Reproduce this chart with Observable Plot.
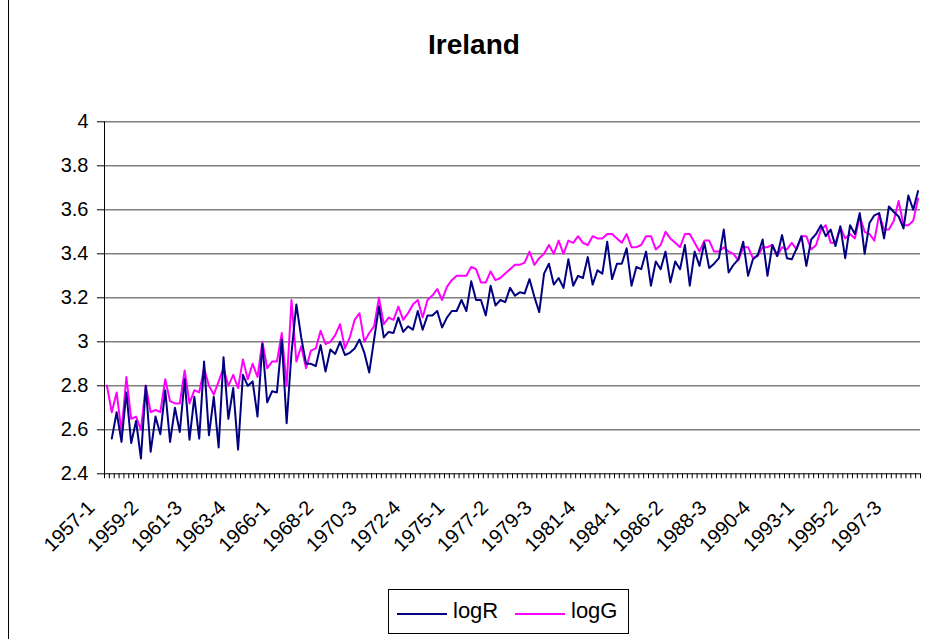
<!DOCTYPE html>
<html>
<head>
<meta charset="utf-8">
<script src="https://cdn.jsdelivr.net/npm/d3@7"></script>
<script src="https://cdn.jsdelivr.net/npm/@observablehq/plot@0.6"></script>
<style>
  html, body { margin: 0; padding: 0; background: #fff; }
  body { width: 926px; height: 639px; overflow: hidden; position: relative; font-family: "Liberation Sans", Arial, sans-serif; }
  #title { box-sizing: border-box; height: 70px; padding-top: 31px; text-align: center; font-weight: bold; font-size: 28px; line-height: 28px; padding-left: 22px; color: #000; }
  #chart svg { display: block; }
  #border { position: absolute; left: 8px; top: 0; width: 1px; height: 639px; background: #000; }
  #legend { position: absolute; left: 388px; top: 589px; width: 241px; height: 45px; border: 1px solid #000; box-sizing: border-box; }
  .sw { position: absolute; height: 2px; width: 50px; top: 23px; }
  .lt { position: absolute; font-size: 22px; line-height: 22px; top: 10px; color: #000; }
</style>
</head>
<body>
<div id="border"></div>
<div id="title">Ireland</div>
<div id="chart"></div>
<div id="legend">
  <div class="sw" style="left:8px;background:#000080"></div>
  <div class="lt" style="left:64px">logR</div>
  <div class="sw" style="left:126px;background:#FF00FF"></div>
  <div class="lt" style="left:182px">logG</div>
</div>
<script>
// ---- data ----
const years = d3.range(1957, 1999);
const categories = years.flatMap(y => [1, 2, 3, 4].map(q => `${y}-${q}`)); // 1957-1 .. 1998-4

const tickLabels = ["1957-1","1959-2","1961-3","1963-4","1966-1","1968-2","1970-3","1972-4","1975-1","1977-2",
  "1979-3","1981-4","1984-1","1986-2","1988-3","1990-4","1993-1","1995-2","1997-3"];

const yTicks = [2.4, 2.6, 2.8, 3.0, 3.2, 3.4, 3.6, 3.8, 4.0];

const logR = [null,
  2.56, 2.68, 2.545, 2.77, 2.54, 2.64, 2.47, 2.80, 2.50, 2.66,
  2.58, 2.78, 2.545, 2.70, 2.59, 2.83, 2.555, 2.75, 2.56, 2.91,
  2.575, 2.75, 2.52, 2.93, 2.65, 2.79, 2.51, 2.85, 2.80, 2.82,
  2.66, 2.99, 2.725, 2.775, 2.77, 3.01, 2.63, 2.95, 3.17, 3.02,
  2.90, 2.90, 2.89, 2.985, 2.865, 2.965, 2.945, 3.00, 2.94, 2.95,
  2.97, 3.01, 2.95, 2.86, 3.01, 3.16, 3.02, 3.045, 3.04, 3.11,
  3.045, 3.07, 3.055, 3.14, 3.055, 3.12, 3.12, 3.14, 3.065, 3.11,
  3.14, 3.14, 3.19, 3.14, 3.275, 3.19, 3.19, 3.12, 3.255, 3.165,
  3.19, 3.18, 3.245, 3.21, 3.225, 3.22, 3.285, 3.205, 3.135, 3.31,
  3.355, 3.26, 3.29, 3.245, 3.375, 3.255, 3.30, 3.29, 3.385, 3.26,
  3.325, 3.31, 3.455, 3.285, 3.355, 3.355, 3.425, 3.255, 3.34, 3.33,
  3.41, 3.255, 3.365, 3.33, 3.41, 3.27, 3.365, 3.33, 3.44, 3.255,
  3.41, 3.345, 3.45, 3.335, 3.355, 3.38, 3.51, 3.315, 3.35, 3.375,
  3.455, 3.30, 3.375, 3.395, 3.465, 3.30, 3.44, 3.39, 3.485, 3.38,
  3.375, 3.425, 3.48, 3.345, 3.465, 3.49, 3.53, 3.48, 3.51, 3.435,
  3.525, 3.38, 3.53, 3.49, 3.585, 3.40, 3.54, 3.575, 3.585, 3.47,
  3.615, 3.59, 3.57, 3.515, 3.665, 3.60, 3.685];

const logG = [
  2.80, 2.68, 2.77, 2.59, 2.84, 2.65, 2.66, 2.60, 2.80, 2.68,
  2.69, 2.68, 2.83, 2.73, 2.72, 2.72, 2.87, 2.72, 2.78, 2.77,
  2.88, 2.80, 2.76, 2.82, 2.88, 2.80, 2.85, 2.79, 2.92, 2.83,
  2.90, 2.84, 3.00, 2.88, 2.91, 2.91, 3.04, 2.80, 3.19, 2.91,
  2.98, 2.88, 2.96, 2.97, 3.05, 2.99, 3.00, 3.03, 3.08, 2.97,
  3.02, 3.10, 3.13, 3.00, 3.04, 3.07, 3.20, 3.08, 3.11, 3.10,
  3.16, 3.10, 3.13, 3.17, 3.19, 3.11, 3.19, 3.21, 3.24, 3.19,
  3.25, 3.28, 3.30, 3.30, 3.30, 3.34, 3.33, 3.27, 3.27, 3.32,
  3.28, 3.29, 3.31, 3.33, 3.35, 3.35, 3.36, 3.41, 3.35, 3.38,
  3.40, 3.44, 3.40, 3.46, 3.40, 3.46, 3.45, 3.48, 3.45, 3.44,
  3.48, 3.47, 3.47, 3.49, 3.49, 3.47, 3.45, 3.49, 3.43, 3.43,
  3.44, 3.48, 3.48, 3.42, 3.44, 3.50, 3.47, 3.45, 3.43, 3.49,
  3.49, 3.45, 3.41, 3.46, 3.46, 3.41, 3.41, 3.43, 3.41, 3.40,
  3.37, 3.43, 3.43, 3.38, 3.39, 3.43, 3.43, 3.44, 3.39, 3.43,
  3.42, 3.45, 3.42, 3.48, 3.48, 3.42, 3.44, 3.51, 3.53, 3.45,
  3.45, 3.52, 3.47, 3.49, 3.47, 3.57, 3.50, 3.49, 3.46, 3.58,
  3.51, 3.51, 3.55, 3.64, 3.53, 3.53, 3.55, 3.65];

// ---- build ----
const n = categories.length;
const rData = logR.map((v, i) => ({i, v})).filter(d => d.v != null);
const gData = logG.map((v, i) => ({i, v}));
const tickIdx = tickLabels.map(l => categories.indexOf(l));
const boundaries = d3.range(n + 1).map(k => k - 0.5);
const font = "Liberation Sans, Arial, sans-serif";
const x0 = -0.5, x1 = n - 0.5;

const chart = Plot.plot({
  width: 926,
  height: 490,
  marginLeft: 104,
  marginRight: 6,
  marginTop: 51.3,
  marginBottom: 86.7,
  style: {fontFamily: font, background: "transparent", overflow: "visible"},
  x: {type: "linear", domain: [x0, x1], axis: null},
  y: {type: "linear", domain: [2.4, 4], axis: null},
  marks: [
    // gridlines
    Plot.ruleY(yTicks.filter(t => t > 2.4), {y: d => d, x1: x0, x2: x1, stroke: "#808080", strokeWidth: 1.4}),
    // y axis line and ticks
    Plot.ruleX([x0], {x: d => d, y1: 2.4, y2: 4, stroke: "#000", strokeWidth: 1}),
    Plot.ruleY(yTicks, {y: d => d, x1: x0 - 7 * (n / 816), x2: x0, stroke: "#000", strokeWidth: 1}),
    Plot.text(yTicks, {x: x0, y: d => d, text: d => String(+d.toFixed(1)), textAnchor: "end", dx: -16, fontSize: 20, fill: "#000"}),
    // x axis line and category ticks
    Plot.ruleY([2.4], {y: d => d, x1: x0, x2: x1, stroke: "#000", strokeWidth: 1}),
    Plot.ruleX(boundaries, {x: d => d, y1: 2.4, y2: 2.4 - 5 * (1.6 / 352), stroke: "#000", strokeWidth: 1}),
    Plot.text(tickIdx, {x: d => d, y: () => 2.4, text: (d, j) => tickLabels[j], rotate: -45, textAnchor: "end", lineAnchor: "bottom", dx: -11, dy: 35, fontSize: 20, fill: "#000"}),
    // series
    Plot.line(gData, {x: "i", y: "v", stroke: "#FF00FF", strokeWidth: 2}),
    Plot.line(rData, {x: "i", y: "v", stroke: "#000080", strokeWidth: 2})
  ]
});
document.getElementById("chart").appendChild(chart);
</script>
</body>
</html>
